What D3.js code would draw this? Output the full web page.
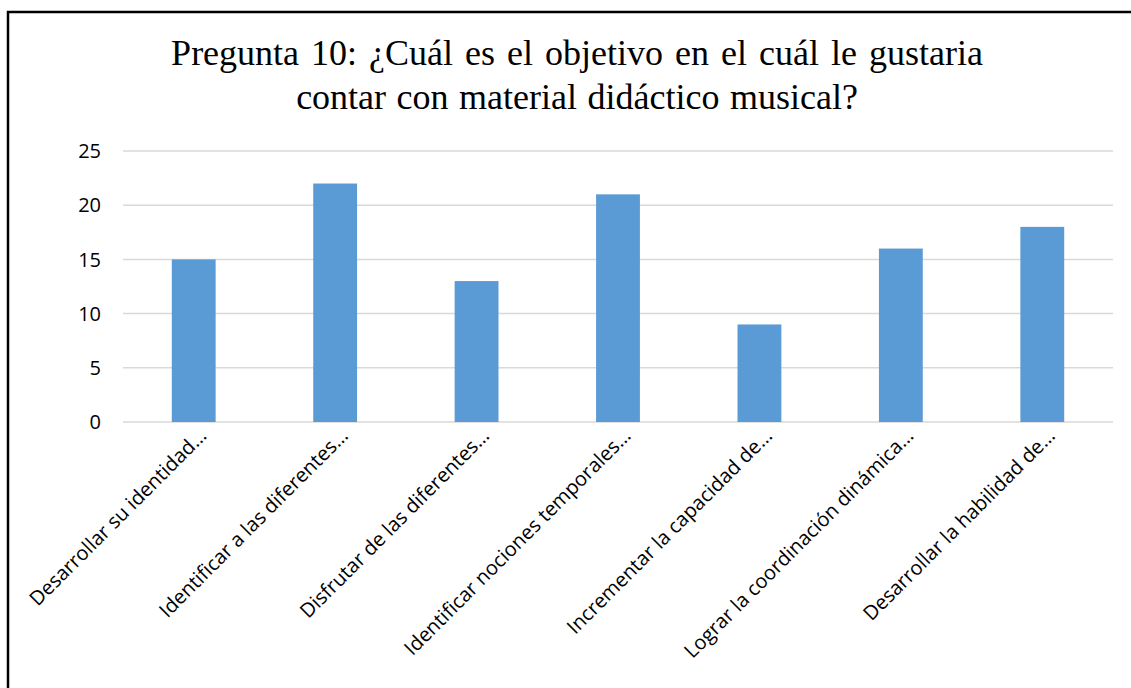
<!DOCTYPE html>
<html>
<head>
<meta charset="utf-8">
<script src="https://cdn.jsdelivr.net/npm/d3@7"></script>
<style>
  body { margin: 0; background: #fff; }
  svg { display: block; }
</style>
</head>
<body>
<svg id="chart" width="1131" height="688"></svg>
<script>
var categories = [
  "Desarrollar su identidad…",
  "Identificar a las diferentes…",
  "Disfrutar de las diferentes…",
  "Identificar nociones temporales…",
  "Incrementar la capacidad de…",
  "Lograr la coordinación dinámica…",
  "Desarrollar la habilidad de…"
]
var values = [15, 22, 13, 21, 9, 16, 18]
var yTicks = [0, 5, 10, 15, 20, 25]
var titleLines = [
  "Pregunta 10: ¿Cuál es el objetivo en el cuál le gustaria",
  "contar con material didáctico musical?"
]

var width = 1131, height = 688
var margin = {left: 123, right: 18, top: 151, bottom: 266}
var labelFont = "'Open Sans', Lato, sans-serif"

var svg = d3.select("#chart")

// frame (cut off at right and bottom like the source)
svg.append("rect")
    .attr("x", 8).attr("y", 12)
    .attr("width", width + 20).attr("height", height + 20)
    .attr("fill", "none")
    .attr("stroke", "#000")
    .attr("stroke-width", 2.5)

// title
svg.append("g").selectAll("text")
    .data(titleLines)
  .enter().append("text")
    .attr("x", 577)
    .attr("y", function(d, i){ return 65 + i * 44 })
    .attr("text-anchor", "middle")
    .attr("font-family", "'Liberation Serif', 'Times New Roman', serif")
    .attr("font-size", 36)
    .attr("word-spacing", function(d, i){ return i ? 1.5 : 3 })
    .attr("fill", "#000")
    .text(function(d){ return d })

var x = d3.scaleBand()
    .domain(categories)
    .range([margin.left, width - margin.right])

var y = d3.scaleLinear()
    .domain([0, 25])
    .range([height - margin.bottom, margin.top])

// gridlines
svg.append("g").selectAll("line")
    .data(yTicks)
  .enter().append("line")
    .attr("x1", margin.left).attr("x2", width - margin.right)
    .attr("y1", function(d){ return y(d) }).attr("y2", function(d){ return y(d) })
    .attr("stroke", "#d9d9d9")
    .attr("stroke-width", 1.5)

// y labels
svg.append("g").selectAll("text")
    .data(yTicks)
  .enter().append("text")
    .attr("x", 101)
    .attr("y", function(d){ return y(d) })
    .attr("dy", "0.36em")
    .attr("text-anchor", "end")
    .attr("font-family", labelFont)
    .attr("font-size", 20)
    .attr("fill", "#000")
    .text(function(d){ return d })

// bars
var barW = x.bandwidth() * 0.31
svg.append("g").selectAll("rect")
    .data(values)
  .enter().append("rect")
    .attr("x", function(d, i){ return x(categories[i]) + x.bandwidth() / 2 - barW / 2 })
    .attr("y", function(d){ return y(d) })
    .attr("width", barW)
    .attr("height", function(d){ return y(0) - y(d) })
    .attr("fill", "#5b9bd5")

// x labels, rotated
svg.append("g").selectAll("text")
    .data(categories)
  .enter().append("text")
    .attr("transform", function(d){
      var cx = x(d) + x.bandwidth() / 2 + 14
      return "translate(" + cx + "," + (y(0) + 15) + ") rotate(-45)"
    })
    .attr("text-anchor", "end")
    .attr("font-family", labelFont)
    .attr("font-size", 20)
    .attr("fill", "#000")
    .text(function(d){ return d })
</script>
</body>
</html>
